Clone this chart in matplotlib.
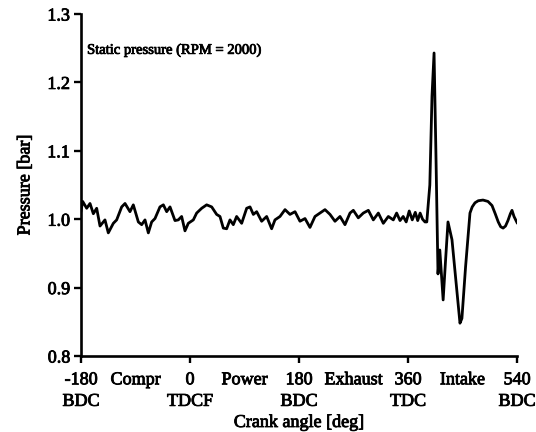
import matplotlib
matplotlib.use("Agg")
import matplotlib.pyplot as plt
import matplotlib.patheffects as pe

# crank angle [deg] and static pressure [bar]
crank_angle = [
    -180, -177.2, -170.6, -165.1, -159.6, -154.1, -148.6, -140.4, -134.9, -126.6,
    -121.1, -112.8, -107.3, -99.1, -93.6, -85.3, -79.8, -74.3, -68.8, -63.3,
    -57.8, -49.6, -44.0, -38.5, -33.0, -24.8, -19.3, -13.8, -8.3, -2.8,
    5.5, 11.0, 19.3, 27.5, 35.8, 44.0, 49.5, 55.0, 60.5, 66.0,
    71.5, 77.0, 85.3, 93.6, 99.1, 104.6, 110.1, 118.3, 126.6, 134.8,
    140.3, 148.6, 156.9, 165.1, 173.4, 181.6, 189.9, 198.1, 206.4, 214.6,
    222.9, 231.2, 239.4, 247.7, 255.9, 264.2, 269.7, 277.9, 286.2, 294.5,
    302.7, 311.0, 319.2, 327.5, 335.7, 341.2, 346.8, 352, 357, 362,
    367, 372, 376, 380, 384, 388, 391, 396, 399.6, 403,
    406, 409.5, 412.5, 418, 422, 426, 432.6, 438, 445.8, 449,
    455, 462.3, 466, 470.6, 476, 483.8, 492, 498.7, 504, 509,
    513, 517, 521, 525, 529, 531.7, 535, 540,
]
pressure = [
    1.012, 1.026, 1.016, 1.023, 1.008, 1.016, 0.990, 0.999, 0.980, 0.994,
    0.999, 1.018, 1.023, 1.011, 1.021, 0.996, 0.992, 0.999, 0.980, 0.996,
    1.001, 1.018, 1.021, 1.011, 1.018, 0.998, 0.999, 1.004, 0.983, 0.994,
    0.999, 1.009, 1.016, 1.021, 1.018, 1.007, 1.004, 0.987, 0.986, 0.999,
    0.992, 1.004, 0.994, 1.016, 1.018, 1.007, 1.011, 0.997, 1.004, 0.986,
    0.999, 1.004, 1.014, 1.007, 1.011, 0.997, 1.001, 0.988, 1.004, 1.009,
    1.014, 1.007, 0.997, 1.004, 0.992, 1.009, 1.013, 1.002, 1.009, 1.013,
    0.999, 1.009, 0.994, 1.004, 0.999, 1.009, 0.998, 1.004, 0.996, 1.012,
    0.999, 1.010, 0.998, 1.009, 1.000, 0.996, 0.996, 1.050, 1.180, 1.243,
    1.100, 0.920, 0.955, 0.882, 0.940, 0.996, 0.970, 0.920, 0.848, 0.855,
    0.930, 1.009, 1.018, 1.024, 1.027, 1.028, 1.026, 1.020, 1.008, 0.996,
    0.989, 0.987, 0.990, 0.998, 1.008, 1.013, 1.004, 0.995,
]

x_ticks = [-180, 0, 180, 360, 540]
x_tick_labels = ["-180\nBDC", "0\nTDCF", "180\nBDC", "360\nTDC", "540\nBDC"]
stroke_pos = [-90, 90, 270, 450]
stroke_names = ["Compr", "Power", "Exhaust", "Intake"]
y_ticks = [0.8, 0.9, 1.0, 1.1, 1.2, 1.3]
y_tick_labels = ["0.8", "0.9", "1.0", "1.1", "1.2", "1.3"]

plt.rcParams["font.family"] = ["Liberation Serif", "DejaVu Serif"]
FS = 13
TICK_LEN = 5
XPAD = 6
heavy = [pe.withStroke(linewidth=0.6, foreground="black")]

fig = plt.figure(figsize=(5.36, 4.32), dpi=100)
ax = fig.add_axes([0.1511, 0.1759, 0.8135, 0.7917])
ax.plot(crank_angle, pressure, color="black", lw=2.0)

ax.set_xlim(-180, 540)
ax.set_ylim(0.8, 1.3)
ax.spines["top"].set_visible(False)
ax.spines["right"].set_visible(False)
for s in ("left", "bottom"):
    ax.spines[s].set_linewidth(1.9)
ax.tick_params(direction="out", length=TICK_LEN, width=1.7, labelsize=FS)
ax.tick_params(axis="x", pad=XPAD)
ax.tick_params(axis="y", pad=3)
ax.set_yticks(y_ticks)
ax.set_yticklabels(y_tick_labels)
ax.set_xticks(x_ticks)
ax.set_xticklabels(x_tick_labels, linespacing=1.35)

xlab_trans = ax.get_xaxis_transform()
for p, n in zip(stroke_pos, stroke_names):
    ax.annotate(n, xy=(p, 0), xycoords=xlab_trans,
                xytext=(0, -(TICK_LEN + XPAD)), textcoords="offset points",
                ha="center", va="top", fontsize=FS, path_effects=heavy)

ax.set_xlabel("Crank angle [deg]", fontsize=FS, labelpad=3, path_effects=heavy)
ax.set_ylabel("Pressure [bar]", fontsize=FS, labelpad=10, path_effects=heavy)
ax.text(-170, 1.247, "Static pressure (RPM = 2000)", fontsize=10.5,
        ha="left", va="center", path_effects=heavy)
for lab in ax.get_xticklabels() + ax.get_yticklabels():
    lab.set_path_effects(heavy)

fig.savefig("out.png", dpi=100)
